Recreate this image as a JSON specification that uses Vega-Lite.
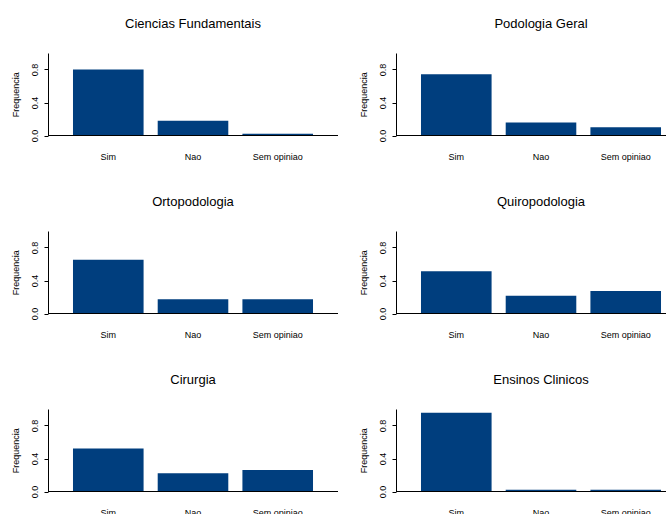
{
  "$schema": "https://vega.github.io/schema/vega-lite/v6.json",
  "background": "white",
  "padding": {"left": 11, "top": 18, "right": 0, "bottom": 0},
  "data": {
    "values": [
      {"curso": "Ciencias Fundamentais", "resposta": "Sim", "freq": 0.800},
      {"curso": "Ciencias Fundamentais", "resposta": "Nao", "freq": 0.178},
      {"curso": "Ciencias Fundamentais", "resposta": "Sem opiniao", "freq": 0.022},
      {"curso": "Podologia Geral", "resposta": "Sim", "freq": 0.743},
      {"curso": "Podologia Geral", "resposta": "Nao", "freq": 0.157},
      {"curso": "Podologia Geral", "resposta": "Sem opiniao", "freq": 0.100},
      {"curso": "Ortopodologia", "resposta": "Sim", "freq": 0.652},
      {"curso": "Ortopodologia", "resposta": "Nao", "freq": 0.174},
      {"curso": "Ortopodologia", "resposta": "Sem opiniao", "freq": 0.174},
      {"curso": "Quiropodologia", "resposta": "Sim", "freq": 0.513},
      {"curso": "Quiropodologia", "resposta": "Nao", "freq": 0.215},
      {"curso": "Quiropodologia", "resposta": "Sem opiniao", "freq": 0.272},
      {"curso": "Cirurgia", "resposta": "Sim", "freq": 0.520},
      {"curso": "Cirurgia", "resposta": "Nao", "freq": 0.220},
      {"curso": "Cirurgia", "resposta": "Sem opiniao", "freq": 0.262},
      {"curso": "Ensinos Clinicos", "resposta": "Sim", "freq": 0.956},
      {"curso": "Ensinos Clinicos", "resposta": "Nao", "freq": 0.022},
      {"curso": "Ensinos Clinicos", "resposta": "Sem opiniao", "freq": 0.022}
    ]
  },
  "facet": {
    "field": "curso",
    "type": "nominal",
    "sort": ["Ciencias Fundamentais", "Podologia Geral", "Ortopodologia", "Quiropodologia", "Cirurgia", "Ensinos Clinicos"],
    "header": {
      "title": null,
      "labelFontSize": 13,
      "labelFont": "Liberation Sans",
      "labelColor": "black",
      "labelPadding": 22
    }
  },
  "columns": 2,
  "spacing": {"row": 34, "column": 20},
  "spec": {
    "width": 290,
    "height": 82.5,
    "layer": [
      {
        "mark": {"type": "bar", "color": "#003E7E"},
        "encoding": {
          "x": {
            "field": "resposta",
            "type": "nominal",
            "sort": ["Sim", "Nao", "Sem opiniao"],
            "scale": {"paddingInner": 0.1667, "paddingOuter": 0.295, "align": 0.5},
            "axis": {"title": null, "domain": false, "ticks": false, "labelPadding": 17, "labelFontSize": 9, "labelAngle": 0, "labelColor": "black", "labelFont": "Liberation Sans"}
          },
          "y": {
            "field": "freq",
            "type": "quantitative",
            "scale": {"domain": [0, 1], "nice": false},
            "axis": {
              "title": "Frequencia",
              "titleFontSize": 9,
              "titleFontWeight": "normal",
              "titleFont": "Liberation Sans",
              "titleColor": "black",
              "titlePadding": 10,
              "values": [0, 0.2, 0.4, 0.6, 0.8, 1.0],
              "labelExpr": "datum.value < 0.01 ? '0.0' : (abs(datum.value - 0.4) < 0.01 ? '0.4' : (abs(datum.value - 0.8) < 0.01 ? '0.8' : ''))",
              "labelAngle": -90,
              "labelAlign": "center",
              "labelBaseline": "bottom",
              "labelFontSize": 9,
              "labelFont": "Liberation Sans",
              "labelColor": "black",
              "labelPadding": 5,
              "labelFlush": false,
              "labelOverlap": false,
              "tickSize": 4,
              "tickColor": "black",
              "domainColor": "black",
              "grid": false
            }
          }
        }
      },
      {
        "mark": {"type": "rule", "color": "black", "strokeWidth": 1},
        "encoding": {"y": {"datum": 0}}
      }
    ]
  },
  "resolve": {"axis": {"x": "independent", "y": "independent"}},
  "config": {"view": {"stroke": null}, "font": "Liberation Sans"}
}
